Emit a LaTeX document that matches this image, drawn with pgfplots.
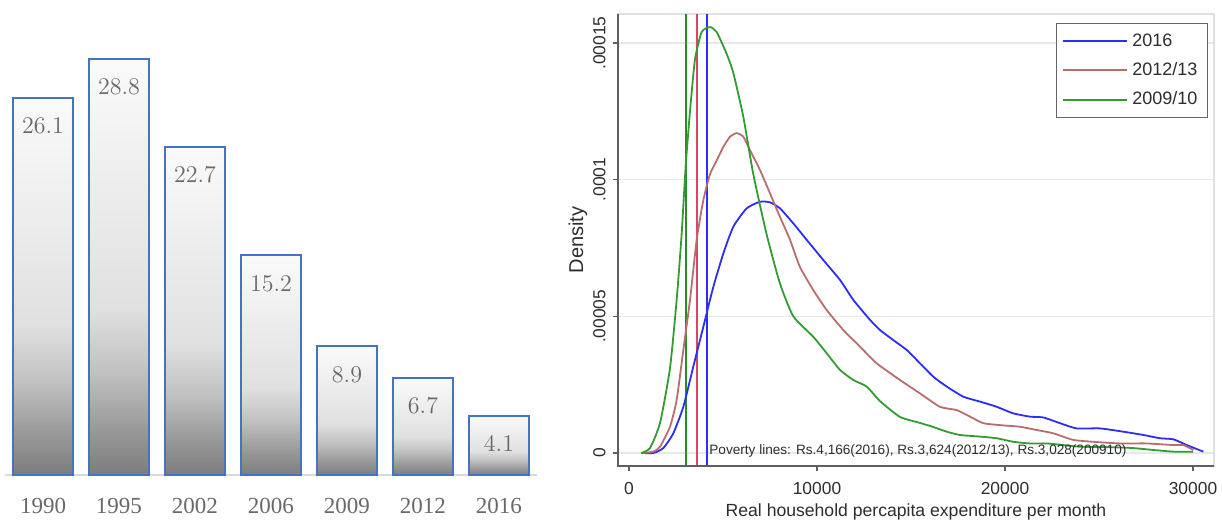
\documentclass[border=0pt]{standalone}
\usepackage{pgfplots}
\pgfplotsset{compat=1.18}
\usepackage{fontspec}
\setmainfont{Liberation Serif}
\newfontfamily\arial{Liberation Sans}
\definecolor{barblue}{RGB}{68,114,196}
\definecolor{lblgray}{RGB}{105,105,105}
\definecolor{c16}{RGB}{45,45,250}
\definecolor{c12}{RGB}{185,110,110}
\definecolor{c09}{RGB}{50,155,50}
\definecolor{vred}{RGB}{220,70,100}
\definecolor{vgreen}{RGB}{40,140,40}
\definecolor{gridc}{RGB}{226,234,236}
\definecolor{axc}{RGB}{95,95,95}
\definecolor{txtc}{RGB}{45,45,45}
\pgfdeclareverticalshading{barshade}{100bp}{color(0bp)=(black!51); color(25bp)=(black!51); color(30bp)=(black!41); color(37.5bp)=(black!24); color(45bp)=(black!12); color(75bp)=(black!2); color(100bp)=(black!2)}
\pgfplotsset{
  gbar/.style={ybar, bar shift=0pt, draw=barblue, line width=1pt,
    shade, shading=barshade,
    nodes near coords,
    nodes near coords style={font=\fontsize{11.5}{13}\selectfont, text=lblgray, anchor=center, yshift=-14pt}},
}
\begin{document}
\begin{tikzpicture}
\path (0,0) rectangle (611pt,260.5pt);
% ---------------- left: bar chart ----------------
\begin{axis}[
  at={(2.5pt,23pt)}, anchor=south west, scale only axis,
  width=266pt, height=216.75pt,
  xmin=-0.5, xmax=6.5, ymin=0, ymax=30,
  ybar, bar width=30pt,
  axis y line=none, axis x line*=bottom,
  x axis line style={-, draw=black!15, line width=1.2pt},
  xtick={0,1,2,3,4,5,6},
  xticklabels={1990,1995,2002,2006,2009,2012,2016},
  xtick style={draw=none},
  xticklabel style={font=\fontsize{11.5}{13}\selectfont, text=lblgray, anchor=north, inner sep=0pt},
  xticklabel shift=7pt,
  clip=false,
]
\addplot[gbar] coordinates {(0,26.1)};
\addplot[gbar] coordinates {(1,28.8)};
\addplot[gbar] coordinates {(2,22.7)};
\addplot[gbar] coordinates {(3,15.2)};
\addplot[gbar] coordinates {(4,8.9)};
\addplot[gbar] coordinates {(5,6.7)};
\addplot[gbar] coordinates {(6,4.1)};
\end{axis}
% ---------------- right: density chart ----------------
\begin{axis}[
  at={(309pt,27.5pt)}, anchor=south west, scale only axis,
  width=298pt, height=226pt,
  xmin=-585, xmax=31117, ymin=-4.75e-6, ymax=1.606e-4,
  axis line style={draw=black!12, line width=0.8pt},
  tick pos=left, tick align=outside, major tick length=2.5pt,
  tick style={axc, line width=0.6pt},
  xtick={0,10000,20000,30000}, xticklabels={0,10000,20000,30000},
  ytick={0,5e-5,1e-4,1.5e-4}, yticklabels={0,.00005,.0001,.00015},
  scaled ticks=false,
  ymajorgrids, grid style={gridc, line width=0.8pt},
  ticklabel style={font=\arial\fontsize{8.7}{10}\selectfont, text=txtc, inner sep=0pt},
  xticklabel style={anchor=north}, xticklabel shift=5.5pt,
  yticklabel style={rotate=90, anchor=south}, yticklabel shift=3.5pt,
  xlabel={Real household percapita expenditure per month},
  ylabel={Density},
  xlabel style={font=\arial\fontsize{8.8}{10}\selectfont, text=txtc, at={(axis description cs:0.5,-0.102)}, anchor=center},
  ylabel style={font=\arial\fontsize{10}{12}\selectfont, text=txtc, at={(axis description cs:-0.0671,0.5)}, anchor=center},
  clip=false,
  legend style={at={(0.990,0.980)}, anchor=north east, draw=black!60, line width=0.6pt,
    font=\arial\fontsize{9}{10.8}\selectfont, text=txtc, inner xsep=3pt, inner ysep=3pt, row sep=2.6pt},
  legend cell align=left,
  legend image code/.code={\draw[#1, line width=1pt] (0pt,0pt) -- (32pt,0pt);},
  every axis plot/.append style={line width=0.9pt},
]
\addplot[vgreen, forget plot] coordinates {(3028,-4.75e-6) (3028,1.606e-4)};
\addplot[vred, forget plot] coordinates {(3624,-4.75e-6) (3624,1.606e-4)};
\addplot[c16, forget plot] coordinates {(4166,-4.75e-6) (4166,1.606e-4)};
\addplot[c16, smooth, tension=0.35] coordinates {
(675,0) (1295,0) (1825,1.8e-6) (2357,7.2e-6) (2890,1.69e-5) (3420,3.16e-5) (3955,4.62e-5)
(4487,6.08e-5) (5018,7.3e-5) (5550,8.28e-5) (6260,8.95e-5) (6968,9.19e-5) (7500,9.17e-5)
(8030,8.95e-5) (8740,8.4e-5) (9450,7.8e-5) (10335,7.06e-5) (11224,6.33e-5) (11933,5.6e-5)
(12820,4.87e-5) (13350,4.5e-5) (14060,4.13e-5) (14770,3.77e-5) (15480,3.28e-5) (16190,2.79e-5)
(16900,2.43e-5) (17785,2.06e-5) (18670,1.88e-5) (19560,1.69e-5) (20440,1.45e-5) (21330,1.33e-5)
(22040,1.3e-5) (22930,1.09e-5) (23810,9.0e-6) (25050,9.0e-6) (26290,7.8e-6) (27360,6.6e-6)
(28240,5.4e-6) (28960,5.0e-6) (29670,2.9e-6) (30550,5e-7)};
\addlegendentry{2016}
\addplot[c12, smooth, tension=0.35] coordinates {
(700,0) (1295,5e-7) (1650,2.3e-6) (2180,9.6e-6) (2535,1.94e-5) (2890,3.77e-5) (3245,5.6e-5)
(3600,7.8e-5) (3955,9.25e-5) (4309,1.02e-4) (4664,1.07e-4) (5018,1.12e-4) (5373,1.157e-4)
(5727,1.17e-4) (6080,1.157e-4) (6436,1.108e-4) (6968,1.035e-4) (7500,9.5e-5) (8030,8.64e-5)
(8564,7.8e-5) (9096,6.8e-5) (9804,5.96e-5) (10514,5.23e-5) (11400,4.5e-5) (12290,3.89e-5)
(13176,3.28e-5) (14415,2.67e-5) (15480,2.18e-5) (16540,1.69e-5) (17430,1.57e-5) (18140,1.33e-5)
(18850,1.09e-5) (19730,1.02e-5) (20800,9.6e-6) (21690,8.4e-6) (22570,7.2e-6) (23630,4.8e-6)
(24700,4.1e-6) (26120,3.5e-6) (27540,3.5e-6) (28960,2.9e-6) (29490,2.9e-6) (30020,1.1e-6)};
\addlegendentry{2012/13}
\addplot[c09, smooth, tension=0.35] coordinates {
(640,0) (1117,1.8e-6) (1650,1.1e-5) (2180,3.1e-5) (2535,5.6e-5) (2800,8.0e-5) (3015,1.05e-4)
(3245,1.25e-4) (3510,1.44e-4) (3865,1.54e-4) (4309,1.558e-4) (4664,1.54e-4) (5196,1.46e-4)
(5550,1.39e-4) (6080,1.23e-4) (6612,1.02e-4) (7320,8.0e-5) (8030,6.2e-5) (8740,5.0e-5)
(9804,4.25e-5) (10514,3.65e-5) (11224,3.04e-5) (11933,2.67e-5) (12643,2.43e-5) (13350,1.9e-5)
(14415,1.32e-5) (15480,1.1e-5) (16190,9.5e-6) (16900,7.8e-6) (17600,6.6e-6) (18670,6.0e-6)
(19560,5.4e-6) (20440,4.1e-6) (21330,3.5e-6) (22220,3.5e-6) (23100,2.9e-6) (23990,2.3e-6)
(25770,2.1e-6) (26830,1.8e-6) (27900,1.1e-6) (28960,5e-7) (30000,5e-7)};
\addlegendentry{2009/10}
\draw[axc, line width=0.8pt] (rel axis cs:0,1) -- (rel axis cs:0,0) -- (rel axis cs:1,0);
\node[anchor=west, inner sep=0pt, font=\arial\fontsize{6.8}{8}\selectfont, text=txtc]
  at (axis cs:4255,8e-7) {Poverty lines: Rs.4,166(2016), Rs.3,624(2012/13), Rs.3,028(200910)};
\end{axis}
\end{tikzpicture}
\end{document}
